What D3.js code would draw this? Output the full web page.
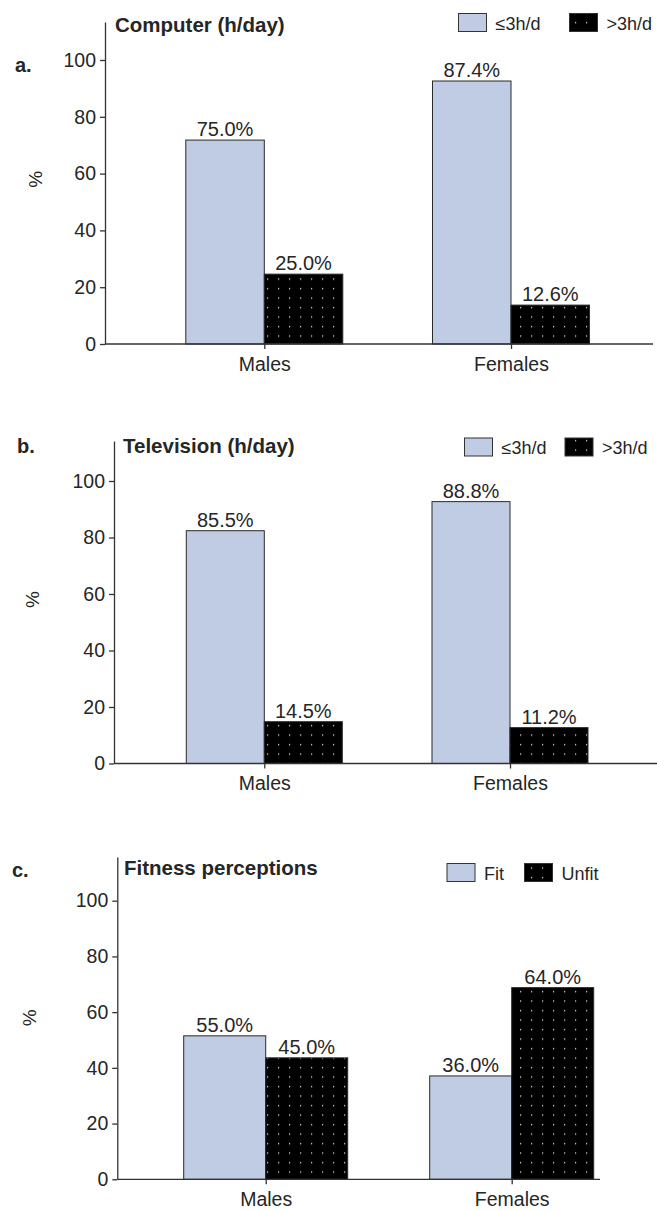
<!DOCTYPE html>
<html>
<head>
<meta charset="utf-8">
<script src="https://cdn.jsdelivr.net/npm/d3@7"></script>
<style>
  body { margin: 0; background: #fff; }
  text { font-family: "Liberation Sans", Arial, sans-serif; fill: #262626; }
</style>
</head>
<body>
<div id="chart"></div>
<script>
// categories and groups
var categories = ["Males", "Females"];
var timeGroups = ["≤3h/d", ">3h/d"];
var fitGroups = ["Fit", "Unfit"];
var yTicks = [0, 20, 40, 60, 80, 100];

// printed percentages
var computerLow = [75.0, 87.4];
var computerHigh = [25.0, 12.6];
var tvLow = [85.5, 88.8];
var tvHigh = [14.5, 11.2];
var fitFit = [55.0, 36.0];
var fitUnfit = [45.0, 64.0];

// bar heights as drawn in the figure (they do not quite follow the printed labels)
var computerLowBar = [71.8, 92.6];
var computerHighBar = [24.6, 13.7];
var tvLowBar = [82.4, 92.7];
var tvHighBar = [14.8, 12.7];
var fitFitBar = [51.5, 37.1];
var fitUnfitBar = [43.6, 68.8];

var W = 657, H = 1211;
var svg = d3.select("#chart").append("svg")
  .attr("width", W)
  .attr("height", H);

// dotted fill for the black bars
var pat = svg.append("defs").append("pattern")
  .attr("id", "dots")
  .attr("patternUnits", "userSpaceOnUse")
  .attr("width", 11)
  .attr("height", 9.5);
pat.append("rect").attr("width", 11).attr("height", 9.5).attr("fill", "#000");
pat.append("rect").attr("x", 3).attr("y", 3).attr("width", 1.2).attr("height", 1.2).attr("fill", "#f0f0f0");

var fills = ["#bfcce4", "url(#dots)"];

function panel(p) {
  var g = svg.append("g");

  var y = d3.scaleLinear().domain([0, 100]).range([p.y0, p.y100]);
  var yTop = y.invert(p.top);
  var yAxisScale = d3.scaleLinear().domain([0, yTop]).range([p.y0, p.top]);

  var x = d3.scalePoint().domain(categories).range(p.centers);
  var xSub = d3.scaleBand().domain(p.groups).range([-p.bw, p.bw]);

  // y axis
  var ya = g.append("g")
    .attr("transform", "translate(" + p.axisX + ",0)")
    .call(d3.axisLeft(yAxisScale).tickValues(yTicks).tickSize(5).tickSizeOuter(0).tickPadding(4));
  ya.selectAll("path, line").attr("stroke", "#333").attr("stroke-width", 1.3);
  ya.selectAll("text").style("font-size", "19.5px").attr("fill", "#262626")
    .attr("font-family", "Liberation Sans, Arial, sans-serif");

  // bars
  p.groups.forEach(function(grp, i) {
    g.selectAll(null)
      .data(categories)
      .enter().append("rect")
        .attr("x", function(d) { return x(d) + xSub(grp); })
        .attr("y", function(d, j) { return y(p.bars[i][j]); })
        .attr("width", xSub.bandwidth())
        .attr("height", function(d, j) { return p.y0 - y(p.bars[i][j]); })
        .attr("fill", fills[i])
        .attr("stroke", "#2a2a2a")
        .attr("stroke-width", 1);
    g.selectAll(null)
      .data(categories)
      .enter().append("text")
        .attr("x", function(d) { return x(d) + xSub(grp) + xSub.bandwidth() / 2; })
        .attr("y", function(d, j) { return y(p.bars[i][j]) - 4; })
        .attr("text-anchor", "middle")
        .style("font-size", "20px")
        .text(function(d, j) { return p.values[i][j].toFixed(1) + "%"; });
  });

  // x axis
  g.append("line")
    .attr("x1", p.axisX).attr("x2", p.xEnd)
    .attr("y1", p.y0).attr("y2", p.y0)
    .attr("stroke", "#333").attr("stroke-width", 1.3);
  var xa = g.append("g")
    .attr("transform", "translate(0," + p.y0 + ")")
    .call(d3.axisBottom(x).tickSize(5).tickSizeOuter(0).tickPadding(8));
  xa.select(".domain").remove();
  xa.selectAll("line").attr("stroke", "#333").attr("stroke-width", 1.3);
  xa.selectAll("text").style("font-size", "19.5px").attr("fill", "#262626")
    .attr("font-family", "Liberation Sans, Arial, sans-serif");

  // y label
  g.append("text")
    .attr("transform", "translate(" + p.pctX + "," + y(58) + ") rotate(-90)")
    .attr("text-anchor", "middle")
    .attr("dy", "0.35em")
    .style("font-size", "19px")
    .text("%");

  // panel letter and title
  g.append("text")
    .attr("x", p.letterX).attr("y", p.letterY)
    .style("font-size", "20px").style("font-weight", "bold")
    .text(p.letter);
  g.append("text")
    .attr("x", p.titleX).attr("y", p.titleY)
    .style("font-size", "20.5px").style("font-weight", "bold")
    .text(p.title);

  // legend
  p.groups.forEach(function(grp, i) {
    g.append("rect")
      .attr("x", p.legX[i]).attr("y", p.legY)
      .attr("width", 28).attr("height", 18)
      .attr("fill", fills[i])
      .attr("stroke", "#333").attr("stroke-width", 1);
    g.append("text")
      .attr("x", p.legX[i] + 37).attr("y", p.legY + 16)
      .style("font-size", "18px")
      .text(grp);
  });
}

panel({
  groups: timeGroups,
  values: [computerLow, computerHigh],
  bars: [computerLowBar, computerHighBar],
  y0: 344, y100: 60, top: 22,
  axisX: 105, xEnd: 653,
  centers: [264.3, 511], bw: 78.5,
  pctX: 35,
  letter: "a.", letterX: 15, letterY: 72,
  title: "Computer (h/day)", titleX: 115, titleY: 32,
  legX: [458.5, 569.5], legY: 13.5
});

panel({
  groups: timeGroups,
  values: [tvLow, tvHigh],
  bars: [tvLowBar, tvHighBar],
  y0: 763.5, y100: 481, top: 441,
  axisX: 114, xEnd: 657,
  centers: [264.3, 510], bw: 78,
  pctX: 32,
  letter: "b.", letterX: 17, letterY: 453,
  title: "Television  (h/day)", titleX: 123, titleY: 453,
  legX: [464.5, 565], legY: 438
});

panel({
  groups: fitGroups,
  values: [fitFit, fitUnfit],
  bars: [fitFitBar, fitUnfitBar],
  y0: 1179.3, y100: 900.7, top: 857,
  axisX: 117.3, xEnd: 600,
  centers: [265.7, 511.7], bw: 82,
  pctX: 29,
  letter: "c.", letterX: 12, letterY: 877,
  title: "Fitness perceptions", titleX: 124, titleY: 875,
  legX: [447, 524.5], legY: 863.5
});
</script>
</body>
</html>
